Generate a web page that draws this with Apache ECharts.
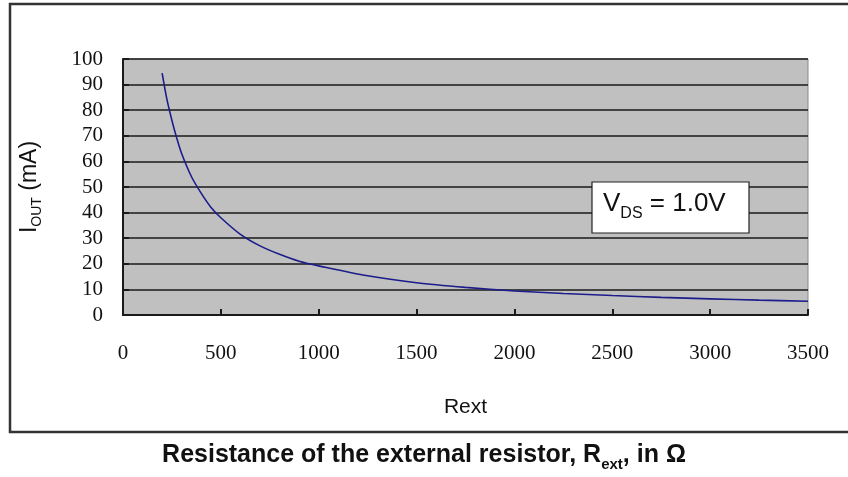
<!DOCTYPE html>
<html>
<head>
<meta charset="utf-8">
<script src="https://cdn.jsdelivr.net/npm/echarts@6/dist/echarts.min.js"></script>
<style>
html,body{margin:0;padding:0;background:#fff;}
#c{width:848px;height:477px;}
</style>
</head>
<body>
<div id="c"></div>
<script>
// Rext (ohm) and IOUT (mA)
const rext = [200, 225, 250, 275, 300, 350, 400, 450, 500, 600, 700, 800, 900, 1000, 1250, 1500, 1750, 2000, 2250, 2500, 2750, 3000, 3250, 3500];
const iout = [94.5, 84, 76, 69, 63, 54, 47.5, 42, 38, 31.5, 27, 23.7, 21, 19.2, 15.3, 12.6, 10.8, 9.4, 8.4, 7.6, 6.9, 6.3, 5.8, 5.4];
const xTicks = [0, 500, 1000, 1500, 2000, 2500, 3000, 3500];
const yTicks = [0, 10, 20, 30, 40, 50, 60, 70, 80, 90, 100];

const chart = echarts.init(document.getElementById('c'), null, {renderer: 'canvas'});
const serif = '"Liberation Serif", "DejaVu Serif", serif';
const sans = '"Liberation Sans", Arial, sans-serif';

chart.setOption({
  animation: false,
  backgroundColor: '#fff',
  grid: {
    left: 123, right: 40, top: 59, bottom: 162,
    show: true, backgroundColor: '#c0c0c0', borderColor: '#8a8a8a', borderWidth: 1
  },
  xAxis: {
    type: 'value', min: xTicks[0], max: xTicks[xTicks.length - 1], interval: 500,
    name: 'Rext', nameLocation: 'middle', nameGap: 82,
    nameTextStyle: {fontFamily: sans, fontSize: 21, color: '#111'},
    axisLine: {show: true, lineStyle: {color: '#1a1a1a', width: 2}},
    axisTick: {show: true, inside: true, length: 6, lineStyle: {color: '#1a1a1a', width: 2}},
    axisLabel: {fontFamily: serif, fontSize: 21, color: '#111', margin: 28, formatter: v => String(v)},
    splitLine: {show: false}
  },
  yAxis: {
    type: 'value', min: yTicks[0], max: yTicks[yTicks.length - 1], interval: 10,
    name: '{a|I}{s|OUT}{a| (mA)}', nameLocation: 'middle', nameRotate: 90, nameGap: 82,
    nameTextStyle: {
      rich: {
        a: {fontFamily: sans, fontSize: 23, color: '#111', lineHeight: 28, verticalAlign: 'bottom'},
        s: {fontFamily: sans, fontSize: 14, color: '#111', lineHeight: 28, verticalAlign: 'bottom', padding: [0, 0, -3, 0]}
      }
    },
    axisLine: {show: true, lineStyle: {color: '#1a1a1a', width: 2}},
    axisTick: {show: true, inside: true, length: 6, lineStyle: {color: '#1a1a1a', width: 2}},
    axisLabel: {fontFamily: serif, fontSize: 21, color: '#111', margin: 20, formatter: v => String(v)},
    splitLine: {show: true, lineStyle: {color: '#1a1a1a', width: 1.6}}
  },
  series: [{
    type: 'line',
    data: rext.map((r, i) => [r, iout[i]]),
    smooth: 0.3,
    showSymbol: false,
    lineStyle: {color: '#1c1c8a', width: 1.6}
  }],
  title: {
    text: '{b|Resistance of the external resistor, R}{bs|ext}{b|, in Ω}',
    left: 'center', top: 433,
    textStyle: {
      rich: {
        b: {fontFamily: sans, fontSize: 25, fontWeight: 'bold', color: '#111', lineHeight: 30, verticalAlign: 'bottom'},
        bs: {fontFamily: sans, fontSize: 15, fontWeight: 'bold', color: '#111', lineHeight: 30, verticalAlign: 'bottom', padding: [0, 0, -4, 0]}
      }
    }
  },
  graphic: [
    {
      type: 'rect', silent: true, z: -1,
      shape: {x: 10, y: 4, width: 900, height: 428},
      style: {fill: 'none', stroke: '#333', lineWidth: 2.5}
    },
    {
      type: 'rect', z: 10,
      shape: {x: 592, y: 182, width: 157, height: 51},
      style: {fill: '#fff', stroke: '#222', lineWidth: 1.2}
    },
    {
      type: 'text', z: 11, left: 603, top: 191,
      style: {
        text: '{v|V}{d|DS}{v| = 1.0V}',
        rich: {
          v: {fontFamily: sans, fontSize: 26, fill: '#111', lineHeight: 32, verticalAlign: 'bottom'},
          d: {fontFamily: sans, fontSize: 16, fill: '#111', lineHeight: 32, verticalAlign: 'bottom', padding: [0, 0, -5, 0]}
        }
      }
    }
  ]
});
</script>
</body>
</html>
